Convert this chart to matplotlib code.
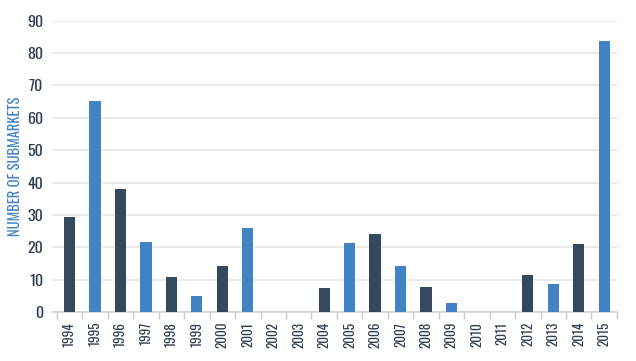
import numpy as np
import matplotlib.pyplot as plt
from matplotlib import font_manager

years = [str(y) for y in range(1994, 2016)]
submarkets = [29.5, 65.2, 38.0, 21.6, 11.0, 4.9, 14.2, 25.9, 0, 0, 7.6,
              21.5, 24.0, 14.4, 7.7, 2.8, 0, 0, 11.6, 8.8, 21.2, 83.6]
y_ticks = [0, 10, 20, 30, 40, 50, 60, 70, 80, 90]

dark = "#34485e"
blue = "#4283c6"
bar_colors = [dark if i % 2 == 0 else blue for i in range(len(years))]

# condensed font if one is available
names = {f.name for f in font_manager.fontManager.ttflist}
font = "DejaVu Sans"
for cand in ["Oswald", "Roboto Condensed", "Liberation Sans Narrow"]:
    if cand in names:
        font = cand
        break
plt.rcParams["font.family"] = [font, "DejaVu Sans"]

fig = plt.figure(figsize=(6.36, 3.61), dpi=100)
ax = fig.add_axes([0.081, 0.135, 0.889, 0.808])

x = np.arange(len(years))
ax.bar(x, submarkets, width=0.44, color=bar_colors, zorder=3)

ax.set_xlim(-0.71, len(years) - 0.5)
ax.set_ylim(0, 90)
ax.set_yticks(y_ticks)
ax.yaxis.grid(True, color="#e6e6e8", linewidth=1.2, zorder=0)
ax.tick_params(axis="y", length=0, pad=6, labelsize=11.5, labelcolor="#2e3e52")

ax.set_xticks(x)
ax.set_xticklabels(years, rotation=90, fontsize=9.5, color="#2e3e52")
ax.tick_params(axis="x", which="major", length=0, pad=7)
ax.set_xticks(np.arange(-0.5, len(years)), minor=True)
ax.tick_params(axis="x", which="minor", length=5, color="#c8c8cc", width=1)

for side in ["top", "right", "left"]:
    ax.spines[side].set_visible(False)
ax.spines["bottom"].set_color("#d4d4d8")
ax.spines["bottom"].set_linewidth(1.2)

ax.set_ylabel("NUMBER OF SUBMARKETS", color=blue, fontsize=10.5, labelpad=3)

fig.savefig("out.png", dpi=100)
